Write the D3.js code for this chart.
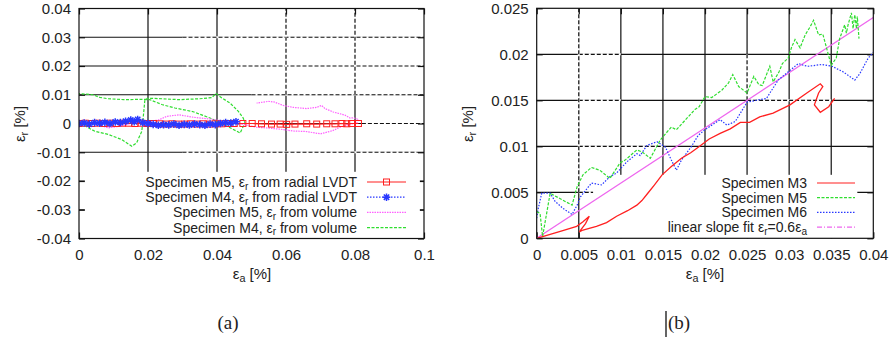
<!DOCTYPE html>
<html>
<head>
<meta charset="utf-8">
<script src="https://cdn.jsdelivr.net/npm/d3@7"></script>
<style>
body { margin: 0; background: #fff; }
</style>
</head>
<body>
<div id="chart"></div>
<script>
// ---- panel (a) data ----
const leftXTicks = [0, 0.02, 0.04, 0.06, 0.08, 0.1];
const leftXTickLabels = ["0", "0.02", "0.04", "0.06", "0.08", "0.1"];
const leftYTicks = [-0.04, -0.03, -0.02, -0.01, 0, 0.01, 0.02, 0.03, 0.04];
const leftYTickLabels = ["-0.04", "-0.03", "-0.02", "-0.01", "0", "0.01", "0.02", "0.03", "0.04"];

// Specimen M5, radial LVDT (red squares)
const m5Radial = [[0,0],[0.0018,0.0001],[0.0036,0],[0.0054,0.0001],[0.0072,0],[0.009,0.0001],[0.0108,0],
  [0.0126,0.0001],[0.0144,0.0001],[0.0162,0],[0.018,0.0001],[0.0198,0],[0.0216,0],[0.0234,-0.0001],
  [0.0252,-0.0002],[0.027,-0.0001],[0.0288,-0.0002],[0.0306,-0.0002],[0.0324,-0.0001],[0.0342,-0.0002],
  [0.036,-0.0001],[0.0378,-0.0002],[0.0396,-0.0001],[0.0414,-0.0001],[0.0432,0],[0.045,0],[0.0475,0],
  [0.0502,0],[0.0529,-0.0001],[0.0558,-0.0002],[0.0583,-0.0002],[0.0602,-0.0003],[0.0626,-0.0002],
  [0.066,-0.0001],[0.0689,-0.0002],[0.0718,-0.0001],[0.0742,-0.0001],[0.0762,0],[0.0776,-0.0001],
  [0.079,0],[0.081,0]];

// Specimen M4, radial LVDT (blue stars)
const m4Radial = [[0,0],[0.0015,0.0002],[0.003,-0.0002],[0.0045,0.0003],[0.006,0.0001],[0.0075,0.0004],
  [0.009,0],[0.0105,0.0005],[0.012,0.0003],[0.0135,0.0008],[0.015,0.0012],[0.016,0.0006],[0.017,0.0014],
  [0.0185,0.0003],[0.02,0],[0.0215,-0.0003],[0.023,-0.0006],[0.0245,-0.0004],[0.026,-0.0005],
  [0.0275,-0.0002],[0.029,-0.0006],[0.0305,-0.0003],[0.032,-0.0005],[0.0335,-0.0002],[0.035,-0.0004],
  [0.0365,-0.0006],[0.038,-0.0002],[0.0395,-0.0004],[0.041,0],[0.0425,0.0003],[0.044,0.0002],[0.0455,0.0006]];

// Specimen M5, from volume (magenta)
const m5Volume = [[0,0],[0.003,-0.0002],[0.006,-0.0006],[0.0085,-0.0015],[0.0115,-0.001],[0.015,0],
  [0.019,0.0006],[0.023,0.0012],[0.0255,0.0025],[0.029,0.003],[0.033,0.0022],[0.036,0.0018],[0.039,0.0014],
  [0.042,0.0008],[0.045,0.0002],[0.048,-0.0004],[0.0515,-0.0013],[0.055,-0.0016],[0.0585,-0.002],
  [0.062,-0.0026],[0.066,-0.0028],[0.07,-0.0036],[0.0735,-0.0025],[0.0757,-0.0013],[0.078,-0.0004],
  [0.0805,0.0002],[0.081,0.0014],[0.0795,0.002],[0.0786,0.0019],[0.0771,0.0029],[0.0737,0.004],
  [0.0713,0.0052],[0.0703,0.0063],[0.0689,0.0056],[0.066,0.0052],[0.0621,0.0056],[0.0592,0.0063],
  [0.0565,0.0075],[0.0549,0.0077],[0.0515,0.0071]];

// Specimen M4, from volume (green)
const m4Volume = [[0.0005,0.0002],[0.0027,-0.0015],[0.0046,-0.0027],[0.0085,-0.0038],[0.0124,-0.0056],
  [0.0153,-0.0079],[0.0167,-0.0067],[0.0182,-0.0027],[0.0186,0.0019],[0.0191,0.0083],[0.0201,0.0088],
  [0.024,0.0086],[0.029,0.0083],[0.035,0.0086],[0.0385,0.009],[0.0397,0.0104],[0.0414,0.0089],
  [0.0438,0.0071],[0.0462,0.0042],[0.0476,0.0019],[0.0481,0.0002],[0.0467,-0.0033],[0.0438,-0.0015],
  [0.0409,0.0002],[0.038,0.0019],[0.0331,0.0041],[0.0278,0.0054],[0.024,0.0066],[0.0205,0.0083],
  [0.018,0.0084],[0.013,0.0083],[0.0085,0.0086],[0.006,0.0091],[0.004,0.01],[0,0.0104]];

// ---- panel (b) data ----
const rightXTicks = [0, 0.005, 0.01, 0.015, 0.02, 0.025, 0.03, 0.035, 0.04];
const rightXTickLabels = ["0", "0.005", "0.01", "0.015", "0.02", "0.025", "0.03", "0.035", "0.04"];
const rightYTicks = [0, 0.005, 0.01, 0.015, 0.02, 0.025];
const rightYTickLabels = ["0", "0.005", "0.01", "0.015", "0.02", "0.025"];

const m3 = [[0,0],[0.0015,0.0004],[0.003,0.0008],[0.00475,0.0013],[0.0055,0.0018],[0.00625,0.0024],
  [0.0058,0.0016],[0.00506,0.0007],[0.0055,0.0009],[0.0071,0.0013],[0.0083,0.0017],[0.0095,0.0024],
  [0.0108,0.003],[0.0119,0.0036],[0.0125,0.0041],[0.0132,0.0049],[0.014,0.0058],[0.0149,0.0069],
  [0.016,0.0078],[0.0172,0.0087],[0.0183,0.0093],[0.0192,0.0099],[0.0205,0.0108],[0.0218,0.0114],
  [0.023,0.0119],[0.0242,0.0126],[0.0253,0.0126],[0.0265,0.0132],[0.0281,0.0136],[0.0301,0.0145],
  [0.0321,0.0158],[0.0337,0.0168],[0.034,0.0165],[0.0335,0.0158],[0.033,0.0145],[0.0337,0.0137],
  [0.0347,0.0143],[0.0354,0.0152]];

const m5 = [[0,0.0029],[0.0004,0.0027],[0.0007,0.0002],[0.0016,0.0049],[0.0028,0.0043],[0.0042,0.0036],
  [0.0048,0.0056],[0.0055,0.0069],[0.0065,0.0077],[0.0075,0.0074],[0.0087,0.0065],[0.0099,0.0082],
  [0.0105,0.0085],[0.0119,0.0096],[0.0125,0.0094],[0.0135,0.0087],[0.0147,0.0107],[0.016,0.0121],
  [0.0166,0.0118],[0.0176,0.0128],[0.0188,0.014],[0.0193,0.0143],[0.02,0.0154],[0.0208,0.0153],
  [0.022,0.0161],[0.0228,0.0169],[0.0233,0.0178],[0.024,0.0165],[0.025,0.0158],[0.0258,0.0176],
  [0.0264,0.0167],[0.0268,0.0166],[0.0277,0.0187],[0.0281,0.017],[0.0288,0.0181],[0.0292,0.019],
  [0.0299,0.0196],[0.0303,0.0208],[0.0307,0.0216],[0.0313,0.0207],[0.0319,0.0221],[0.0325,0.023],
  [0.0329,0.0237],[0.0335,0.0221],[0.034,0.0222],[0.0345,0.0205],[0.035,0.0188],[0.0356,0.0196],
  [0.036,0.0217],[0.0366,0.0232],[0.0368,0.0223],[0.037,0.0232],[0.0374,0.0245],[0.0376,0.0228],
  [0.0378,0.0243],[0.038,0.0228],[0.0381,0.0241],[0.0383,0.0217]];

const m6 = [[0,0.0022],[0.0002,0.0033],[0.0006,0.0049],[0.0016,0.0049],[0.0022,0.004],[0.0032,0.0032],
  [0.0042,0.0026],[0.0048,0.0036],[0.0052,0.0045],[0.0065,0.006],[0.0077,0.0058],[0.0087,0.0067],
  [0.0095,0.0071],[0.0101,0.0077],[0.0107,0.0083],[0.0119,0.0092],[0.0123,0.009],[0.0131,0.0101],
  [0.0143,0.0105],[0.0153,0.0099],[0.016,0.0085],[0.0166,0.0074],[0.0172,0.0085],[0.0184,0.01],
  [0.0192,0.0112],[0.02,0.0118],[0.0208,0.0123],[0.0218,0.0129],[0.0226,0.0123],[0.0236,0.0127],
  [0.0242,0.0136],[0.025,0.0148],[0.0261,0.015],[0.0273,0.0152],[0.0287,0.0172],[0.0299,0.0181],
  [0.0311,0.019],[0.0317,0.0188],[0.0323,0.0187],[0.0331,0.0188],[0.0339,0.0189],[0.0351,0.0187],
  [0.0364,0.0181],[0.0378,0.0172],[0.0384,0.0179],[0.0394,0.0196],[0.04,0.0202]];

const fitX = [0, 0.04];
const fitY = [0, 0.024];

// ---- drawing ----
const FONT = "'Liberation Sans', Arial, sans-serif";
const SERIF = "'Liberation Serif', 'Times New Roman', serif";
const FS = 15;      // tick labels and axis titles
const LEG_FS = 14;  // key entries
const svg = d3.select("#chart").append("svg")
  .attr("width", 891).attr("height", 340)
  .style("background", "#fff");

const line = (x, y) => d3.line().x(d => x(d[0])).y(d => y(d[1]));

function drawPanel(p) {
  const x = d3.scaleLinear().domain(p.xDomain).range([p.left, p.right]);
  const y = d3.scaleLinear().domain(p.yDomain).range([p.bottom, p.top]);
  const g = svg.append("g");

  svg.append("clipPath").attr("id", p.id + "-clip")
    .append("rect").attr("x", p.left).attr("y", p.top)
    .attr("width", p.right - p.left).attr("height", p.bottom - p.top);

  // grid
  const grid = g.append("g").attr("stroke", "#111").attr("stroke-width", 1.2);
  p.xTicks.slice(1, -1).forEach(v => grid.append("line")
    .attr("x1", x(v)).attr("x2", x(v)).attr("y1", p.top).attr("y2", p.bottom));
  p.yTicks.slice(1, -1).forEach(v => grid.append("line")
    .attr("x1", p.left).attr("x2", p.right).attr("y1", y(v)).attr("y2", y(v)));
  // parts of the grid that show up dashed
  p.dashH.forEach(d => {
    grid.append("line").attr("stroke", "#fff").attr("stroke-width", 2)
      .attr("x1", x(d.from)).attr("x2", x(d.to)).attr("y1", y(d.v)).attr("y2", y(d.v));
    grid.append("line").attr("stroke-dasharray", "4,2")
      .attr("x1", x(d.from)).attr("x2", x(d.to)).attr("y1", y(d.v)).attr("y2", y(d.v));
  });
  p.dashV.forEach(d => {
    grid.append("line").attr("stroke", "#fff").attr("stroke-width", 2)
      .attr("x1", x(d.v)).attr("x2", x(d.v)).attr("y1", y(d.from)).attr("y2", y(d.to));
    grid.append("line").attr("stroke-dasharray", "4,2")
      .attr("x1", x(d.v)).attr("x2", x(d.v)).attr("y1", y(d.from)).attr("y2", y(d.to));
  });

  // axes with inward ticks
  const styleAxis = sel => {
    sel.select(".domain").remove();
    sel.attr("font-family", FONT).attr("font-size", FS);
    sel.selectAll(".tick line").attr("stroke", "#111").attr("stroke-width", 1.2);
    sel.selectAll(".tick text").attr("fill", "#222");
  };
  g.append("g").attr("transform", `translate(0,${p.bottom})`)
    .call(d3.axisBottom(x).tickValues(p.xTicks).tickFormat((d, i) => p.xLabels[i])
      .tickSizeInner(-6).tickSizeOuter(0).tickPadding(11)).call(styleAxis);
  g.append("g").attr("transform", `translate(0,${p.top})`)
    .call(d3.axisTop(x).tickValues(p.xTicks).tickFormat("")
      .tickSizeInner(-6).tickSizeOuter(0)).call(styleAxis);
  g.append("g").attr("transform", `translate(${p.left},0)`)
    .call(d3.axisLeft(y).tickValues(p.yTicks).tickFormat((d, i) => p.yLabels[i])
      .tickSizeInner(-6).tickSizeOuter(0).tickPadding(8)).call(styleAxis);
  g.append("g").attr("transform", `translate(${p.right},0)`)
    .call(d3.axisRight(y).tickValues(p.yTicks).tickFormat("")
      .tickSizeInner(-6).tickSizeOuter(0)).call(styleAxis);

  // opaque key box
  g.append("rect")
    .attr("x", x(p.keyBox[0])).attr("y", y(p.keyBox[3]))
    .attr("width", x(p.keyBox[1]) - x(p.keyBox[0]))
    .attr("height", y(p.keyBox[2]) - y(p.keyBox[3]))
    .attr("fill", "#fff");

  const data = g.append("g").attr("clip-path", `url(#${p.id}-clip)`);

  // border
  g.append("rect").attr("x", p.left).attr("y", p.top)
    .attr("width", p.right - p.left).attr("height", p.bottom - p.top)
    .attr("fill", "none").attr("stroke", "#111").attr("stroke-width", 1.2);

  return { x, y, g, data };
}

// text with subscripts: parts = [[string, isSub], ...]
function richText(g, tx, ty, parts, anchor, size, transform) {
  const t = g.append("text").attr("text-anchor", anchor)
    .attr("font-size", size).attr("fill", "#222").attr("font-family", FONT);
  if (transform) t.attr("transform", transform);
  else t.attr("x", tx).attr("y", ty);
  let prevSub = false;
  parts.forEach(([s, sub]) => {
    const ts = t.append("tspan").text(s);
    if (sub) { ts.attr("font-size", size * 0.72).attr("dy", 2.5); prevSub = true; }
    else if (prevSub) { ts.attr("dy", -2.5); prevSub = false; }
  });
  return t;
}

const starPath = (cx, cy, r) => {
  const a = r * 0.7071;
  return `M${cx - r},${cy}H${cx + r}M${cx},${cy - r}V${cy + r}` +
    `M${cx - a},${cy - a}L${cx + a},${cy + a}M${cx - a},${cy + a}L${cx + a},${cy - a}`;
};

const RED = "#ff2020", GREEN = "#30dd30", BLUE = "#2838ff", MAGENTA = "#ff60ff";

// ---- panel (a) ----
const A = drawPanel({
  id: "a", left: 79, right: 424, top: 8.5, bottom: 238.5,
  xDomain: [0, 0.1], yDomain: [-0.04, 0.04],
  xTicks: leftXTicks, xLabels: leftXTickLabels, yTicks: leftYTicks, yLabels: leftYTickLabels,
  dashH: [{ v: 0.03, from: 0.03, to: 0.1 }, { v: 0.02, from: 0.03, to: 0.1 },
          { v: 0.01, from: 0.05, to: 0.1 }, { v: 0, from: 0.082, to: 0.1 },
          { v: -0.01, from: 0.03, to: 0.098 }],
  dashV: [{ v: 0.06, from: 0.01, to: 0.04 }, { v: 0.08, from: 0.01, to: 0.04 }],
  keyBox: [0.0017, 0.0988, -0.04, -0.0168]
});

A.data.append("path").datum(m4Volume).attr("d", line(A.x, A.y))
  .attr("fill", "none").attr("stroke", GREEN).attr("stroke-width", 1.2).attr("stroke-dasharray", "3,1.5");
A.data.append("path").datum(m5Volume).attr("d", line(A.x, A.y))
  .attr("fill", "none").attr("stroke", MAGENTA).attr("stroke-width", 1.2).attr("stroke-dasharray", "1.5,1");
A.data.append("path").datum(m5Radial).attr("d", line(A.x, A.y))
  .attr("fill", "none").attr("stroke", RED).attr("stroke-width", 1.2);
A.data.selectAll("rect.sq").data(m5Radial).enter().append("rect").attr("class", "sq")
  .attr("x", d => A.x(d[0]) - 3).attr("y", d => A.y(d[1]) - 3)
  .attr("width", 6).attr("height", 6)
  .attr("fill", "none").attr("stroke", RED).attr("stroke-width", 1);
A.data.append("path").datum(m4Radial).attr("d", line(A.x, A.y))
  .attr("fill", "none").attr("stroke", BLUE).attr("stroke-width", 1.2).attr("stroke-dasharray", "1.5,1.5");
A.data.selectAll("path.star").data(m4Radial).enter().append("path").attr("class", "star")
  .attr("d", d => starPath(A.x(d[0]), A.y(d[1]), 3.8))
  .attr("stroke", BLUE).attr("stroke-width", 1.5);

// legend (a)
const legA = svg.append("g");
const legARows = [
  { parts: [["Specimen M5, ε"], ["r", 1], [" from radial LVDT"]], color: RED, dash: null, mark: "sq" },
  { parts: [["Specimen M4, ε"], ["r", 1], [" from radial LVDT"]], color: BLUE, dash: "1.5,1.5", mark: "star" },
  { parts: [["Specimen M5, ε"], ["r", 1], [" from volume"]], color: MAGENTA, dash: "1.5,1", mark: null },
  { parts: [["Specimen M4, ε"], ["r", 1], [" from volume"]], color: GREEN, dash: "3,1.5", mark: null }
];
legARows.forEach((r, i) => {
  const cy = 182 + i * 15.2;
  richText(legA, 357, cy + 5, r.parts, "end", LEG_FS);
  legA.append("line").attr("x1", 367).attr("x2", 406).attr("y1", cy).attr("y2", cy)
    .attr("stroke", r.color).attr("stroke-width", 1.2).attr("stroke-dasharray", r.dash);
  if (r.mark === "sq") legA.append("rect").attr("x", 383.5).attr("y", cy - 3).attr("width", 6).attr("height", 6)
    .attr("fill", "none").attr("stroke", r.color);
  if (r.mark === "star") legA.append("path").attr("d", starPath(386.5, cy, 3.8))
    .attr("stroke", r.color).attr("stroke-width", 1.5);
});

// ---- panel (b) ----
const B = drawPanel({
  id: "b", left: 536.7, right: 873.3, top: 8.3, bottom: 238.3,
  xDomain: [0, 0.04], yDomain: [0, 0.025],
  xTicks: rightXTicks, xLabels: rightXTickLabels, yTicks: rightYTicks, yLabels: rightYTickLabels,
  dashH: [{ v: 0.02, from: 0.005, to: 0.01 }, { v: 0.015, from: 0.005, to: 0.01 },
          { v: 0.015, from: 0.025, to: 0.035 }, { v: 0.01, from: 0.005, to: 0.015 },
          { v: 0.005, from: 0.005, to: 0.0067 }],
  dashV: [{ v: 0.005, from: 0.005, to: 0.025 }, { v: 0.025, from: 0.015, to: 0.02 }],
  keyBox: [0.0067, 0.0381, 0, 0.0069]
});

B.data.append("path").datum(d3.zip(fitX, fitY)).attr("d", line(B.x, B.y))
  .attr("fill", "none").attr("stroke", "#ee66ee").attr("stroke-width", 1.3);
B.data.append("path").datum(m6).attr("d", line(B.x, B.y))
  .attr("fill", "none").attr("stroke", BLUE).attr("stroke-width", 1.2).attr("stroke-dasharray", "1.5,1.5");
B.data.append("path").datum(m5).attr("d", line(B.x, B.y))
  .attr("fill", "none").attr("stroke", GREEN).attr("stroke-width", 1.2).attr("stroke-dasharray", "3,1.5");
B.data.append("path").datum(m3).attr("d", line(B.x, B.y))
  .attr("fill", "none").attr("stroke", RED).attr("stroke-width", 1.3);

// legend (b)
const legB = svg.append("g");
const legBRows = [
  { parts: [["Specimen M3"]], color: RED, dash: null },
  { parts: [["Specimen M5"]], color: GREEN, dash: "3,1.5" },
  { parts: [["Specimen M6"]], color: BLUE, dash: "1.5,1.5" },
  { parts: [["linear slope fit ε"], ["r", 1], ["=0.6ε"], ["a", 1]], color: "#ee66ee", dash: "5,2,1,2" }
];
legBRows.forEach((r, i) => {
  const cy = 183 + i * 14.7;
  richText(legB, 807, cy + 5, r.parts, "end", LEG_FS);
  legB.append("line").attr("x1", 817).attr("x2", 855).attr("y1", cy).attr("y2", cy)
    .attr("stroke", r.color).attr("stroke-width", 1.2).attr("stroke-dasharray", r.dash);
});

// axis titles
const xTitle = [["ε"], ["a", 1], [" [%]"]];
const yTitle = [["ε"], ["r", 1], [" [%]"]];
richText(svg, 252, 279, xTitle, "middle", FS);
richText(svg, 705, 279, xTitle, "middle", FS);
richText(svg, 0, 0, yTitle, "middle", FS, "translate(25,124) rotate(-90)");
richText(svg, 0, 0, yTitle, "middle", FS, "translate(473,124) rotate(-90)");

// panel captions
svg.append("text").attr("x", 228).attr("y", 329).attr("text-anchor", "middle")
  .style("font-family", SERIF).attr("font-size", 19).attr("fill", "#222").text("(a)");
svg.append("text").attr("x", 679).attr("y", 329).attr("text-anchor", "middle")
  .style("font-family", SERIF).attr("font-size", 19).attr("fill", "#222").text("(b)");
svg.append("line").attr("x1", 666).attr("x2", 666).attr("y1", 311).attr("y2", 337)
  .attr("stroke", "#111").attr("stroke-width", 1.3);
</script>
</body>
</html>
